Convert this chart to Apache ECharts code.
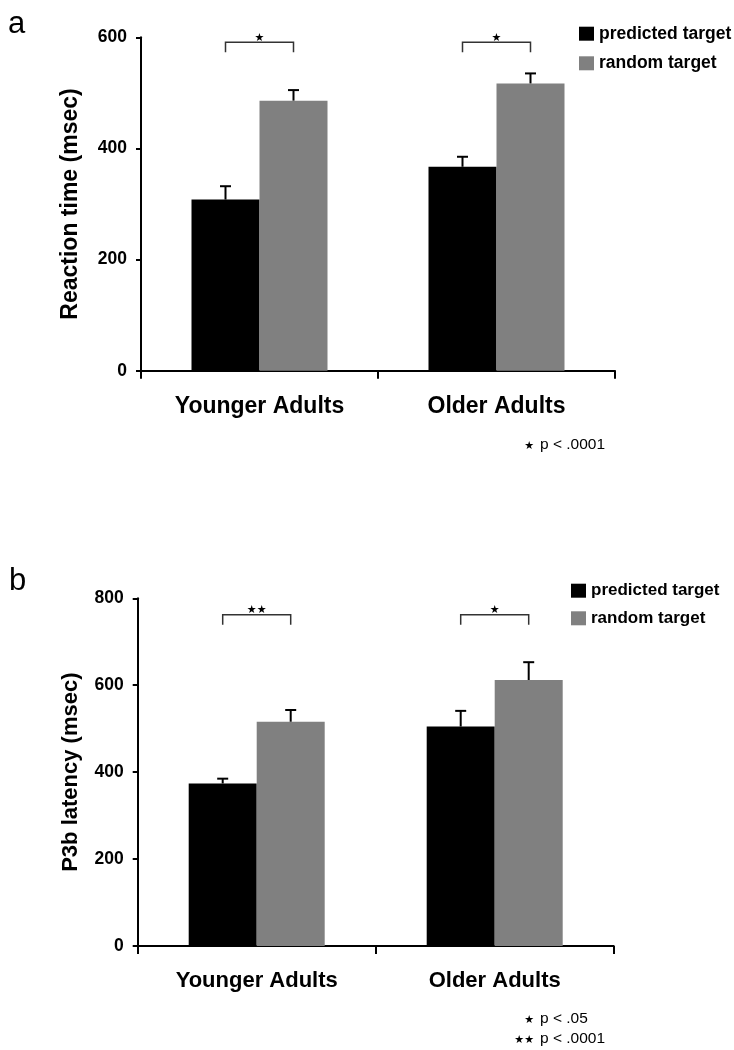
<!DOCTYPE html>
<html>
<head>
<meta charset="utf-8">
<title>Reaction time and P3b latency</title>
<script src="https://cdn.jsdelivr.net/npm/echarts@6/dist/echarts.min.js"></script>
<style>
	html, body { margin: 0; padding: 0; background: #fff; }
	#main { width: 734px; height: 1050px; }
</style>
</head>
<body>
<div id="main"></div>
<script>
var categories = ['Younger Adults', 'Older Adults'];
var seriesNames = ['predicted target', 'random target'];

// panel a: reaction time
var rtPredicted = [308, 367];
var rtRandom = [486, 517];
var rtPredictedErr = [24, 18];
var rtRandomErr = [19, 18];
var rtSig = ['★', '★'];
var rtBracket = [591, 591];
var rtNotes = [['★', 'p < .0001']];

// panel b: P3b latency
var p3Predicted = [374, 505];
var p3Random = [516, 612];
var p3PredictedErr = [11, 36];
var p3RandomErr = [27, 41];
var p3Sig = ['★★', '★'];
var p3Bracket = [762, 762];
var p3Notes = [['★', 'p < .05'], ['★★', 'p < .0001']];

(function () {
	var chart = echarts.init(document.getElementById('main'));
	var FONT = '"Liberation Sans", Arial, sans-serif';
	var BAR_W = 68;
	var BLACK = '#000000';
	var GREY = '#808080';

	function errorBar(shift) {
		return function (params, api) {
			var cat = api.value(0), val = api.value(1), err = api.value(2);
			var base = api.coord([cat, val]);
			var top = api.coord([cat, val + err]);
			var x = base[0] + shift;
			return {
				type: 'group',
				children: [
					{ type: 'line', shape: { x1: x, y1: base[1], x2: x, y2: top[1] }, style: { stroke: '#000', lineWidth: 2 } },
					{ type: 'line', shape: { x1: x - 5.5, y1: top[1], x2: x + 5.5, y2: top[1] }, style: { stroke: '#000', lineWidth: 2 } }
				]
			};
		};
	}

	function bracket(params, api) {
		var c = api.coord([api.value(0), api.value(1)]);
		var xl = c[0] - BAR_W / 2, xr = c[0] + BAR_W / 2, y = c[1];
		return {
			type: 'group',
			children: [
				{ type: 'polyline', shape: { points: [[xl, y + 10], [xl, y], [xr, y], [xr, y + 10]] }, style: { stroke: '#333', lineWidth: 1.5, fill: null } },
				{ type: 'text', style: { x: c[0], y: y + 1, text: api.value(2), font: '11px "DejaVu Sans"', fill: '#000', align: 'center', verticalAlign: 'bottom' } }
			]
		};
	}

	function pack(vals, errs) {
		return vals.map(function (v, i) { return [i, v, errs[i]]; });
	}
	function packSig(ys, sig) {
		return ys.map(function (y, i) { return [i, y, sig[i]]; });
	}

	function xAxisFor(idx, size) {
		return {
			type: 'category', gridIndex: idx, data: categories,
			axisLine: { lineStyle: { color: '#000', width: 2 } },
			axisTick: { show: true, length: 8, lineStyle: { color: '#000', width: 2 } },
			axisLabel: { color: '#000', fontFamily: FONT, fontWeight: 'bold', fontSize: size, margin: 24 }
		};
	}
	function yAxisFor(idx, max, name, size, gap) {
		return {
			type: 'value', gridIndex: idx, min: 0, max: max, interval: 200,
			name: name, nameLocation: 'middle', nameGap: gap,
			nameTextStyle: { color: '#000', fontFamily: FONT, fontWeight: 'bold', fontSize: size },
			axisLine: { show: true, lineStyle: { color: '#000', width: 2 } },
			axisTick: { show: true, length: 5, lineStyle: { color: '#000', width: 2 } },
			axisLabel: { color: '#000', fontFamily: FONT, fontWeight: 'bold', fontSize: 17.5, margin: 14 },
			splitLine: { show: false }
		};
	}
	function legendFor(left, top, size, gap) {
		return {
			data: seriesNames, orient: 'vertical', left: left, top: top,
			icon: 'rect', itemWidth: 15, itemHeight: 14, itemGap: gap,
			selectedMode: false,
			textStyle: { color: '#000', fontFamily: FONT, fontWeight: 'bold', fontSize: size, lineHeight: 18 }
		};
	}

	function noteGraphics(notes, top, step) {
		var out = [];
		notes.forEach(function (n, i) {
			var y = top + i * step;
			out.push({ type: 'text', right: 734 - 534, top: y - 6, style: { text: n[0], font: '11px "DejaVu Sans"', fill: '#000' } });
			out.push({ type: 'text', left: 540, top: y - 10, style: { text: n[1], font: '15.5px ' + FONT, fill: '#000' } });
		});
		return out;
	}

	var option = {
		animation: false,
		backgroundColor: '#fff',
		grid: [
			{ left: 141, top: 37.3, width: 474, height: 333.4 },
			{ left: 137.7, top: 598.3, width: 476, height: 347.7 }
		],
		xAxis: [xAxisFor(0, 23), xAxisFor(1, 22)],
		yAxis: [
			yAxisFor(0, 600, 'Reaction time (msec)', 23, 59),
			yAxisFor(1, 800, 'P3b latency (msec)', 22, 56)
		],
		legend: [legendFor(574, 19.7, 17.5, 11.6), legendFor(566, 576.7, 17, 9.6)],
		series: [
			{ name: seriesNames[0], type: 'bar', xAxisIndex: 0, yAxisIndex: 0, data: rtPredicted, barWidth: BAR_W, barGap: '0%', itemStyle: { color: BLACK } },
			{ name: seriesNames[1], type: 'bar', xAxisIndex: 0, yAxisIndex: 0, data: rtRandom, barWidth: BAR_W, barGap: '0%', itemStyle: { color: GREY } },
			{ name: seriesNames[0], type: 'bar', xAxisIndex: 1, yAxisIndex: 1, data: p3Predicted, barWidth: BAR_W, barGap: '0%', itemStyle: { color: BLACK } },
			{ name: seriesNames[1], type: 'bar', xAxisIndex: 1, yAxisIndex: 1, data: p3Random, barWidth: BAR_W, barGap: '0%', itemStyle: { color: GREY } },
			{ type: 'custom', xAxisIndex: 0, yAxisIndex: 0, renderItem: errorBar(-BAR_W / 2), data: pack(rtPredicted, rtPredictedErr), z: 5 },
			{ type: 'custom', xAxisIndex: 0, yAxisIndex: 0, renderItem: errorBar(BAR_W / 2), data: pack(rtRandom, rtRandomErr), z: 5 },
			{ type: 'custom', xAxisIndex: 1, yAxisIndex: 1, renderItem: errorBar(-BAR_W / 2), data: pack(p3Predicted, p3PredictedErr), z: 5 },
			{ type: 'custom', xAxisIndex: 1, yAxisIndex: 1, renderItem: errorBar(BAR_W / 2), data: pack(p3Random, p3RandomErr), z: 5 },
			{ type: 'custom', xAxisIndex: 0, yAxisIndex: 0, renderItem: bracket, data: packSig(rtBracket, rtSig), z: 5 },
			{ type: 'custom', xAxisIndex: 1, yAxisIndex: 1, renderItem: bracket, data: packSig(p3Bracket, p3Sig), z: 5 }
		],
		graphic: [
			{ type: 'text', left: 8, top: 9, style: { text: 'a', font: '31px ' + FONT, fill: '#000' } },
			{ type: 'text', left: 9, top: 566, style: { text: 'b', font: '31px ' + FONT, fill: '#000' } }
		].concat(noteGraphics(rtNotes, 447, 20), noteGraphics(p3Notes, 1021, 19.5))
	};

	chart.setOption(option);

	window.onresize = function () {
		chart.resize();
	};
})();
</script>
</body>
</html>
